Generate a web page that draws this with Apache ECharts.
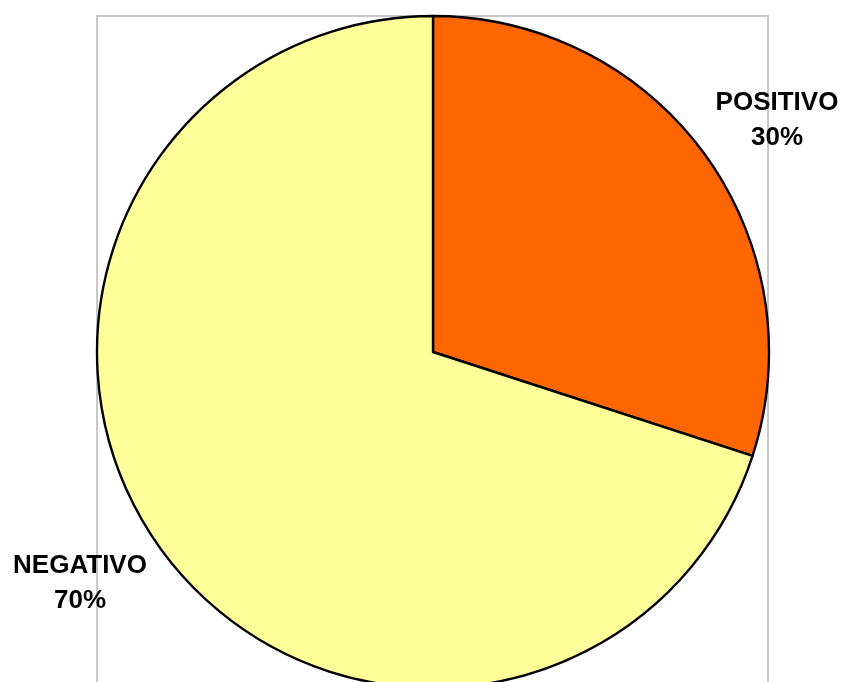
<!DOCTYPE html>
<html>
<head>
<meta charset="utf-8">
<style>
  html, body { margin: 0; padding: 0; background: #ffffff; }
  #chart { width: 843px; height: 682px; }
</style>
<script src="https://cdn.jsdelivr.net/npm/echarts@6/dist/echarts.min.js"></script>
</head>
<body>
<div id="chart"></div>
<script>
// Result categories and their counts (shares of the total)
const categories = ['POSITIVO', 'NEGATIVO'];
const values = [30, 70];
const sliceColors = ['#FF6600', '#FFFF99'];

// Where each category's label block sits (centre of the two-line text)
const labelSpots = {
  POSITIVO: [777, 120],
  NEGATIVO: [80, 583]
};

const chart = echarts.init(document.getElementById('chart'), null, { renderer: 'canvas' });

chart.setOption({
  animation: false,
  backgroundColor: '#ffffff',
  graphic: [{
    type: 'rect',
    z: -10,
    shape: { x: 97, y: 16, width: 671, height: 700 },
    style: { fill: 'none', stroke: '#c8c8c8', lineWidth: 2 }
  }],
  series: [{
    type: 'pie',
    center: [433, 352],
    radius: 336,
    startAngle: 90,
    clockwise: true,
    data: categories.map((name, i) => ({
      name: name,
      value: values[i],
      itemStyle: { color: sliceColors[i] }
    })),
    itemStyle: { borderColor: '#000000', borderWidth: 2.4 },
    label: {
      show: true,
      position: 'outside',
      alignTo: 'none',
      overflow: 'none',
      formatter: '{b}\n{d}%',
      fontFamily: 'Liberation Sans, Arial, sans-serif',
      fontWeight: 'bold',
      fontSize: 26,
      lineHeight: 35,
      color: '#000000',
      align: 'center'
    },
    labelLine: { show: false },
    labelLayout: function (params) {
      const name = categories[params.dataIndex];
      const spot = labelSpots[name];
      return { x: spot[0], y: spot[1], align: 'center', verticalAlign: 'middle' };
    },
    emphasis: { disabled: true }
  }]
});
</script>
</body>
</html>
